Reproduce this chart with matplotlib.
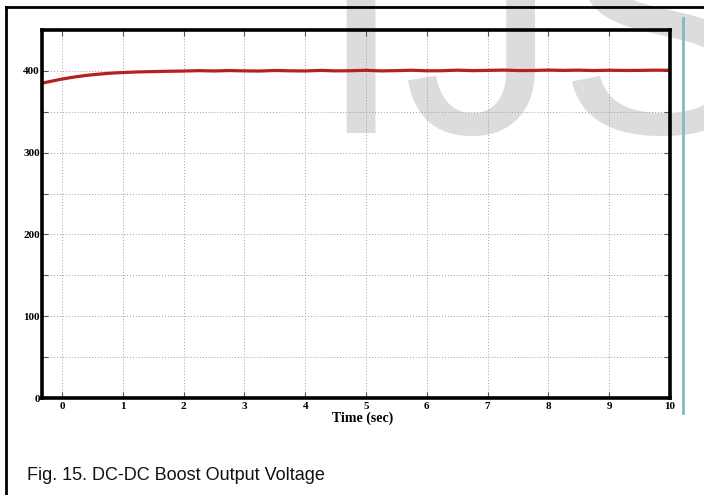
import matplotlib
matplotlib.use("Agg")
import matplotlib.pyplot as plt
from matplotlib.lines import Line2D

# ---- data ----
time_s = [-0.33, -0.2, 0.0, 0.2, 0.4, 0.6, 0.8, 1.0, 1.2, 1.4, 1.6, 1.8, 2.0,
          2.25, 2.5, 2.75, 3.0, 3.25, 3.5, 3.75, 4.0, 4.25, 4.5, 4.75, 5.0,
          5.25, 5.5, 5.75, 6.0, 6.25, 6.5, 6.75, 7.0, 7.25, 7.5, 7.75, 8.0,
          8.25, 8.5, 8.75, 9.0, 9.25, 9.5, 9.75, 10.0]
voltage = [385.0, 387.0, 390.0, 392.5, 394.5, 396.0, 397.2, 398.0, 398.6, 399.0,
           399.3, 399.6, 399.8,
           400.3, 399.9, 400.4, 400.0, 399.8, 400.5, 400.1, 399.9, 400.6, 400.0,
           400.2, 400.7, 400.0, 400.3, 400.8, 400.1, 400.2, 400.9, 400.3, 400.6,
           401.0, 400.4, 400.5, 401.0, 400.6, 400.9, 400.4, 400.8, 400.5, 400.6,
           400.9, 400.7]
x_ticks = [0, 1, 2, 3, 4, 5, 6, 7, 8, 9, 10]
y_ticks = [0, 50, 100, 150, 200, 250, 300, 350, 400, 450]
y_labels = ["0", "", "100", "", "200", "", "300", "", "400", ""]
xlabel = "Time (sec)"
caption = "Fig. 15. DC-DC Boost Output Voltage"
watermark = "IJS"

W, H = 704, 495
fig = plt.figure(figsize=(W / 100, H / 100), dpi=100)
fig.patch.set_facecolor("white")

# watermark behind everything
fig.text(317 / W, 1 - 133 / H, watermark, fontsize=223, family="Liberation Sans",
         color="#dcdcdc", ha="left", va="baseline", zorder=0)

ax = fig.add_axes([42 / W, 1 - 398 / H, (670 - 42) / W, (398 - 30) / H])
ax.patch.set_alpha(0)
ax.set_zorder(2)

ax.plot(time_s, voltage, color="#b52020", lw=2.3, solid_capstyle="butt")

ax.set_xlim(-0.33, 10)
ax.set_ylim(0, 450)
ax.set_xticks(x_ticks)
ax.set_yticks(y_ticks)
ax.set_yticklabels(y_labels)
ax.grid(True, color="#a0a0a0", linestyle=(0, (1, 2)), linewidth=0.7)
for s in ax.spines.values():
    s.set_linewidth(2.6)
    s.set_color("black")
ax.tick_params(direction="in", length=4, width=0.8, color="#555555",
               top=True, right=True)
ax.tick_params(axis="y", pad=1.5)
ax.tick_params(axis="x", pad=3)
for lab in ax.get_xticklabels() + ax.get_yticklabels():
    lab.set_fontfamily("Liberation Serif")
    lab.set_fontweight("bold")
    lab.set_fontsize(8)

fig.text(363 / W, 1 - 418 / H, xlabel, family="Liberation Serif",
         fontweight="bold", fontsize=10, ha="center", va="center")

fig.text(27 / W, 1 - 480 / H, caption, family="Liberation Sans", fontsize=13,
         ha="left", va="baseline", color="#111111")

# outer frame (left and top) and teal vertical bar
fig.add_artist(Line2D([6 / W, 6 / W], [0, 1 - 7 / H], transform=fig.transFigure,
                      color="black", lw=2))
fig.add_artist(Line2D([6 / W, 1], [1 - 7 / H, 1 - 7 / H], transform=fig.transFigure,
                      color="black", lw=2))
fig.add_artist(Line2D([683 / W, 683 / W], [1 - 413 / H, 1 - 18 / H],
                      transform=fig.transFigure, color="#7fbcbf", lw=2))

fig.savefig("out.png", dpi=100)
